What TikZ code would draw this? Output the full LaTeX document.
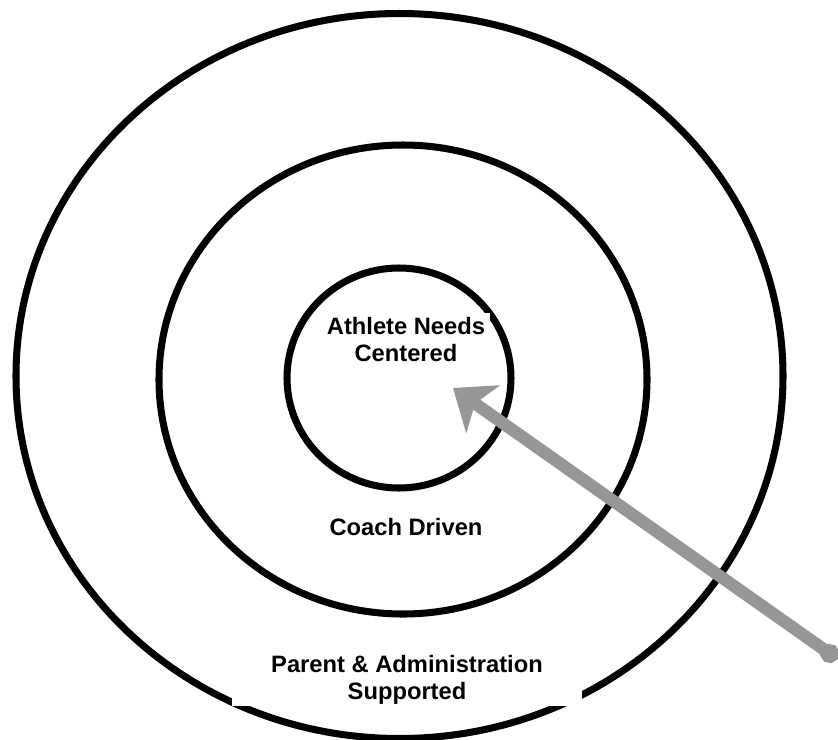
\documentclass[tikz,border=0pt]{standalone}
\usepackage{fontspec}
\setmainfont{Liberation Sans}
\usetikzlibrary{arrows.meta}
\definecolor{pointergray}{HTML}{969696}

\begin{document}
\begin{tikzpicture}[font=\bfseries\fontsize{13.5}{15}\selectfont,
ring/.style={draw, line width=4pt},
ringtext/.style={fill=white, align=center},
pointer/.style={draw=pointergray, line width=7pt, {Circle[length=0.38cm]}-{Stealth[length=0.74cm, width=1.18cm, inset=0.2cm, line width=0pt]}}]

\useasboundingbox (0,0) rectangle (16.76,-14.8);
\draw[ring] (7.99,-7.52) ellipse [x radius=7.67, y radius=7.25];
\draw[ring] (8.06,-7.59) ellipse [x radius=4.88, y radius=4.69];
\draw[ring] (7.98,-7.56) ellipse [x radius=2.24, y radius=2.20];

\node[ringtext, inner sep=0.1cm] (core) at (8.12,-6.79) {Athlete Needs\\Centered};
\node[anchor=base] (coach) at (8.12,-10.7) {Coach Driven};
\node[ringtext, minimum width=7cm, inner sep=1pt] (support) at (8.14,-13.6) {Parent \& Administration\\Supported};

\coordinate (aim) at (9.06,-7.76);
\coordinate (grip) at (16.75,-13.18);
\draw[pointer] (grip) -- (aim);
\end{tikzpicture}
\end{document}
